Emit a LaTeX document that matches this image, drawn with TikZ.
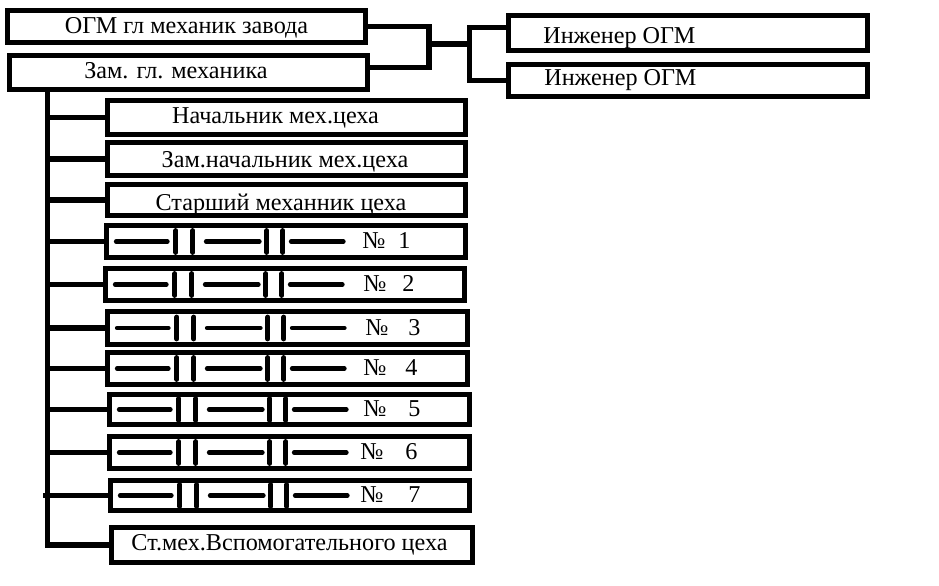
\documentclass[tikz,border=0pt]{standalone}
\usepackage{fontspec}
\setmainfont{Liberation Serif}
\usetikzlibrary{positioning}
\begin{document}
\begin{tikzpicture}[x=0.025cm,y=-0.025cm,
    box/.style={draw,line width=3.8pt,inner sep=0pt},
    link/.style={line width=3.8pt},
    txt/.style={font=\fontsize{17.2}{20}\selectfont,inner sep=0pt},
    sym/.style={line width=3.4pt,line cap=round}]
  \useasboundingbox (0,0) rectangle (939,585);

  % top rows
  \node[box,minimum width=8.95cm,minimum height=0.8cm] (ogm) at (186.5,26.5) {};
  \node[box,minimum width=8.95cm,minimum height=0.85cm] (zam) at (188.5,72.5) {};
  \node[box,minimum width=8.975cm,minimum height=0.875cm] (ing1) at (688,33) {};
  \node[box,minimum width=8.975cm,minimum height=0.8cm] (ing2) at (688,80.5) {};
  \node[txt,anchor=base] (togm) at (186.5,33) {ОГМ гл механик завода};
  \node[txt,anchor=base] (tzam) at (176,78) {Зам. гл. механика};
  \node[txt,anchor=base west] (ting1) at (543,43) {Инженер ОГМ};
  \node[txt,anchor=base west] (ting2) at (544,85) {Инженер ОГМ};

  \coordinate (j1) at (429,44);
  \coordinate (j2) at (469.5,44);
  \draw[link] (ogm.east) -| (j1);
  \draw[link] ([yshift=3.5pt]zam.east) -| (j1);
  \draw[link] (j1) -- (j2);
  \draw[link] ([yshift=3.9pt]ing1.west) -| (j2);
  \draw[link] (ing2.west) -| (j2);

  % column
  \node[box,minimum width=8.95cm,minimum height=0.85cm] (nach) at (286.5,117.5) {};
  \node[box,minimum width=8.95cm,minimum height=0.825cm] (zamnach) at (286.5,159) {};
  \node[box,minimum width=8.95cm,minimum height=0.775cm] (star) at (286.5,200) {};
  \node[box,minimum width=9.025cm,minimum height=0.875cm] (stmeh) at (292,545) {};
  \node[txt,anchor=base] (tnach) at (275.5,123) {Начальник мех.цеха};
  \node[txt,anchor=base] (tzamnach) at (285,167) {Зам.начальник мех.цеха};
  \node[txt,anchor=base] (tstar) at (281,210) {Старший механник цеха};
  \node[txt,anchor=base] (tstmeh) at (289.5,550) {Ст.мех.Вспомогательного цеха};

  \foreach \i/\cx/\cy/\w/\h/\nx/\dx in {
      1/286/241.5/8.975/0.8/362/398,
      2/285/284.5/8.975/0.8/363/402,
      3/287.5/328/9.0/0.825/365/408,
      4/287.5/368.5/9.0/0.8/363/405,
      5/289.5/409.5/9.0/0.75/363/408,
      6/289.5/452.5/9.0/0.8/360/405,
      7/290/495.5/8.975/0.75/360/408}{
    \node[box,minimum width=\w cm,minimum height=\h cm] (n\i) at (\cx,\cy) {};
    \begin{scope}[shift={(n\i.west)}]
      \draw[sym] (12.5,0) -- (63.5,0) (102.5,0) -- (155.5,0) (187.5,0) -- (239.5,0);
      \foreach \t in {72,89,163,179} \draw[sym] (\t,-11) -- (\t,11);
    \end{scope}
    \node[txt,anchor=base west] (no\i) at (\nx,\cy+7) {№};
    \node[txt,anchor=base west] (d\i) at (\dx,\cy+7) {\i};
  }

  \coordinate (trunk) at (47.5,0);
  \draw[link] (zam.south -| trunk) |- (stmeh.west);
  \foreach \b in {nach,zamnach,star,n1,n2,n3,n4,n5,n6}
    \draw[link] (\b.west) -- (\b.west -| trunk);
  \draw[link] (n7.west) -- ([xshift=-3pt]n7.west -| trunk);
\end{tikzpicture}
\end{document}
